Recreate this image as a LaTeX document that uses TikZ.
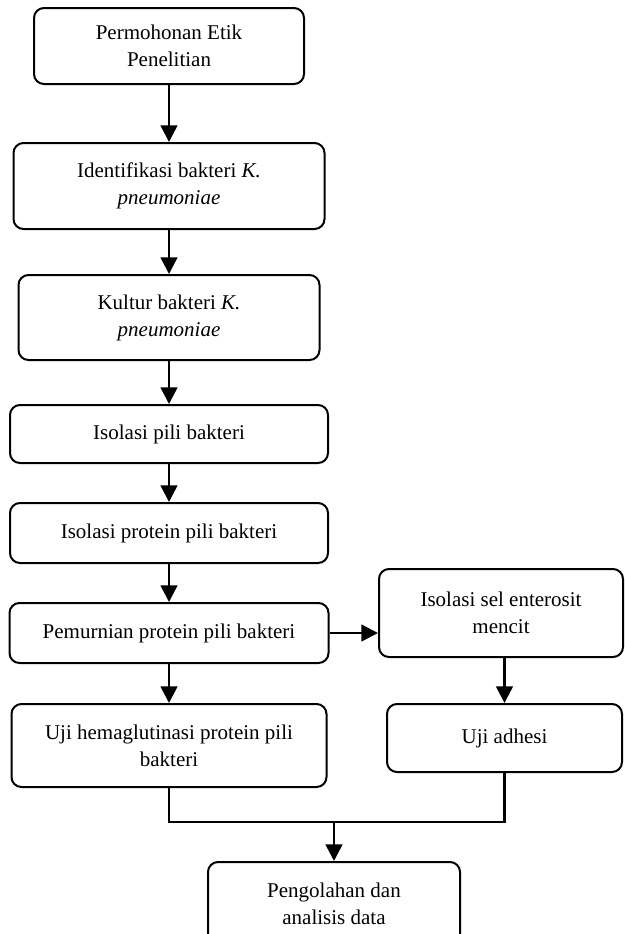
\documentclass[tikz,border=0pt]{standalone}
\usepackage{fontspec}
\setmainfont{Liberation Serif}
\usetikzlibrary{positioning, arrows.meta}

\begin{document}
\begin{tikzpicture}[font=\fontsize{12.6}{16.2}\selectfont,
 bx/.style={draw, line width=1.2pt, rounded corners=6pt, align=center, inner sep=3pt, fill=white},
 arr/.style={-{Triangle[length=10pt,width=10pt]}, line width=1.5pt}]
\useasboundingbox (0,0) rectangle (375pt,-560.4pt);

\node[bx, minimum width=162pt, minimum height=45.6pt] (etik) at (101.4pt,-27.6pt) {Permohonan Etik\\Penelitian};
\node[bx, below=34.2pt of etik, minimum width=186.6pt, minimum height=51.6pt] (ident) {Identifikasi bakteri \textit{K.}\\\textit{pneumoniae}};
\node[bx, below=26.4pt of ident, minimum width=180.6pt, minimum height=51pt] (kultur) {Kultur bakteri \textit{K.}\\\textit{pneumoniae}};
\node[bx, below=25.8pt of kultur, minimum width=190.8pt, minimum height=34.8pt] (pili) {Isolasi pili bakteri};
\node[bx, below=22.8pt of pili, minimum width=190.8pt, minimum height=36pt] (protein) {Isolasi protein pili bakteri};
\node[bx, below=22.8pt of protein, minimum width=191.4pt, minimum height=36pt] (murni) {Pemurnian protein pili bakteri};
\node[bx, below=23.4pt of murni, minimum width=189pt, minimum height=49.8pt] (hema) {Uji hemaglutinasi protein pili\\bakteri};

\node[bx, minimum width=146.4pt, minimum height=52.8pt] (sel) at (300.6pt,-367.8pt) {Isolasi sel enterosit\\mencit};
\node[bx, minimum width=141pt, minimum height=40.8pt] (adhesi) at (302.7pt,-442.8pt) {Uji adhesi};

\coordinate (merge) at (200.4pt,-493.2pt);
\node[bx, minimum width=151.2pt, minimum height=50.4pt] (olah) at (200.4pt,-542.4pt) {Pengolahan dan\\analisis data};

\draw[arr] (etik) -- (ident);
\draw[arr] (ident) -- (kultur);
\draw[arr] (kultur) -- (pili);
\draw[arr] (pili) -- (protein);
\draw[arr] (protein) -- (murni);
\draw[arr] (murni) -- (hema);
\draw[arr] (murni.east) -- (murni.east -| sel.west);
\draw[arr] (sel.south -| adhesi) -- (adhesi.north);

\draw[line width=1.5pt] (hema.south) |- (merge) -| (adhesi.south);
\draw[arr] (merge) -- (olah.north);

\end{tikzpicture}
\end{document}
